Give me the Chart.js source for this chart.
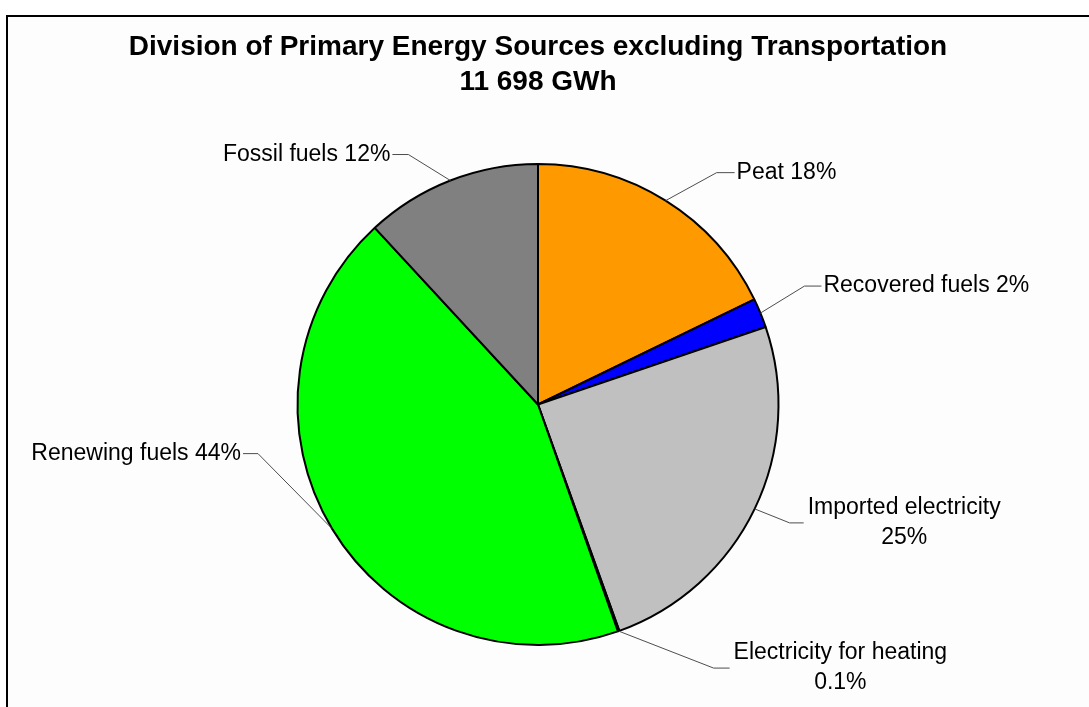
<!DOCTYPE html>
<html>
<head>
<meta charset="utf-8">
<script src="https://cdn.jsdelivr.net/npm/chart.js@4"></script>
<style>
  html, body { margin: 0; padding: 0; background: #fff; overflow: hidden; }
  #frame {
    position: absolute; left: 6px; top: 15px; width: 1200px; height: 800px;
    border-left: 2px solid #000; border-top: 2px solid #000; background: #fdfdfd;
  }
  #wrap { position: absolute; left: 0; top: 0; width: 1089px; height: 707px; }
</style>
</head>
<body>
<div id="frame"></div>
<div id="wrap"><canvas id="energyPie" width="1089" height="707"></canvas></div>
<script>
// === Data ===
const titleLines = ["Division of Primary Energy Sources excluding Transportation", "11 698 GWh"];
const sources = ["Peat", "Recovered fuels", "Imported electricity", "Electricity for heating", "Renewing fuels", "Fossil fuels"];
const shares = [18, 2, 25, 0.1, 44, 12];
const sliceColors = ["#ff9900", "#0000ff", "#c0c0c0", "#ffff00", "#00ff00", "#808080"];

// label placement: offset from slice edge to the elbow, run of the flat part, and side
const labelLayout = [
  { dx: 51, dy: -28, run: 18, side: 1, wrap: false },
  { dx: 44, dy: -27, run: 17, side: 1, wrap: false },
  { dx: 35, dy: 14, run: 14, side: 1, wrap: true },
  { dx: 95, dy: 37, run: 16, side: 1, wrap: true },
  { dx: -74, dy: -75, run: 15, side: -1, wrap: false },
  { dx: -42, dy: -26, run: 16, side: -1, wrap: false },
];

Chart.defaults.font.family = '"Liberation Sans", Arial, Helvetica, sans-serif';
Chart.defaults.color = "#000";

// === Leader lines + labels ===
const pieLabels = {
  id: "pieLabels",
  afterDatasetsDraw(chart) {
    const ctx = chart.ctx;
    const meta = chart.getDatasetMeta(0);
    ctx.save();
    ctx.font = '23px "Liberation Sans", Arial, sans-serif';
    ctx.textBaseline = "middle";
    ctx.fillStyle = "#000";
    ctx.strokeStyle = "#4d4d4d";
    ctx.lineWidth = 1;

    meta.data.forEach((arc, i) => {
      const lay = labelLayout[i];
      const mid = (arc.startAngle + arc.endAngle) / 2;
      const px = arc.x + Math.cos(mid) * arc.outerRadius;
      const py = arc.y + Math.sin(mid) * arc.outerRadius;
      const ex = px + lay.dx;
      const ey = py + lay.dy;
      const tx = ex + lay.run * lay.side;

      ctx.beginPath();
      ctx.moveTo(px, py);
      ctx.lineTo(ex, ey);
      ctx.lineTo(tx, ey);
      ctx.stroke();

      const pct = shares[i] + "%";
      const lines = lay.wrap ? [sources[i], pct] : [sources[i] + " " + pct];
      const lineH = 30;
      const boxW = Math.max(...lines.map((l) => ctx.measureText(l).width));
      const gap = lay.wrap ? 4 : 2;
      const boxLeft = lay.side > 0 ? tx + gap : tx - gap - boxW;
      ctx.textAlign = "center";
      lines.forEach((l, k) => {
        const ly = ey + (k - (lines.length - 1) / 2) * lineH;
        ctx.fillText(l, boxLeft + boxW / 2, ly);
      });
    });
    ctx.restore();
  },
};

// === Chart ===
new Chart(document.getElementById("energyPie"), {
  type: "pie",
  data: {
    labels: sources,
    datasets: [
      {
        data: shares,
        backgroundColor: sliceColors,
        borderColor: "#000",
        borderWidth: 2,
      },
    ],
  },
  options: {
    responsive: false,
    animation: false,
    layout: { padding: { top: 0, left: 0, right: 13, bottom: 61 } },
    plugins: {
      legend: { display: false },
      tooltip: { enabled: false },
      title: {
        display: true,
        text: titleLines,
        color: "#000",
        font: { size: 28, weight: "bold", lineHeight: 1.25 },
        padding: { top: 30, bottom: 63 },
      },
    },
  },
  plugins: [pieLabels],
});
</script>
</body>
</html>
